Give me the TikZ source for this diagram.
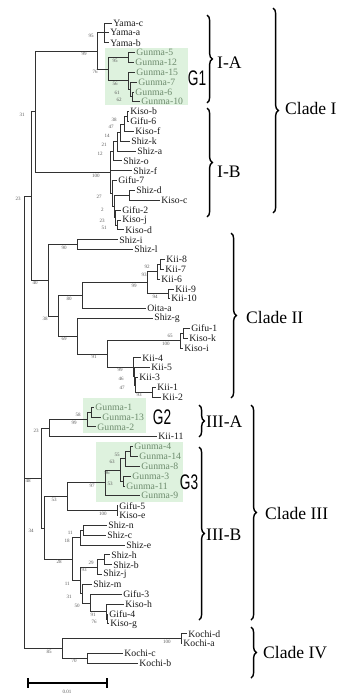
\documentclass[tikz,border=0pt]{standalone}
\usepackage{fontspec}
\setmainfont{Liberation Serif}
\newfontfamily\gfont{Liberation Sans}
\usetikzlibrary{decorations.pathreplacing}

\definecolor{boxgreen}{RGB}{222,242,222}
\definecolor{gtext}{RGB}{110,140,110}
\definecolor{treeline}{RGB}{50,50,50}

\tikzstyle{branch} = [draw=treeline, line width=0.7pt]
\tikzstyle{leaf} = [anchor=west, inner sep=1pt, font=\fontsize{8.3}{9}\selectfont, text=black!90]
\tikzstyle{gleaf} = [leaf, text=gtext]
\tikzstyle{boot} = [anchor=north east, inner sep=0pt, xshift=-0.3cm, yshift=-0.03cm, font=\fontsize{4.3}{5}\selectfont, text=black!65]
\tikzstyle{gbox} = [fill=boxgreen, draw=none]
\tikzstyle{cbrace} = [decorate, decoration={brace, amplitude=4.5pt}, line width=1.2pt]
\tikzstyle{clade} = [anchor=west, inner sep=0pt, font=\fontsize{15}{17}\selectfont]
\tikzstyle{gname} = [inner sep=0pt, font=\gfont\fontsize{18}{20}\selectfont]

\begin{document}
\begin{tikzpicture}[x=0.03cm, y=-0.03cm]
\useasboundingbox (0,0) rectangle (340,696);

\fill[gbox] (105,48) rectangle (188,105);
\fill[gbox] (83,398) rectangle (146,433);
\fill[gbox] (96,442) rectangle (183,502);

\foreach \n/\x/\s/\t [count=\i] in {
    yamac/112/leaf/Yama-c, yamaa/109/leaf/Yama-a, yamab/109/leaf/Yama-b,
    gunma5/135/gleaf/Gunma-5, gunma12/134/gleaf/Gunma-12, gunma15/135/gleaf/Gunma-15,
    gunma7/137/gleaf/Gunma-7, gunma6/134/gleaf/Gunma-6, gunma10/140/gleaf/Gunma-10,
    kisob/129/leaf/Kiso-b, gifu6/129/leaf/Gifu-6, kisof/134/leaf/Kiso-f,
    shizk/130/leaf/Shiz-k, shiza/136/leaf/Shiz-a, shizo/122/leaf/Shiz-o,
    shizf/132/leaf/Shiz-f, gifu7/117/leaf/Gifu-7, shizd/135/leaf/Shiz-d,
    kisoc/160/leaf/Kiso-c, gifu2/121/leaf/Gifu-2, kisoj/121/leaf/Kiso-j,
    kisod/124/leaf/Kiso-d, shizi/118/leaf/Shiz-i, shizl/133/leaf/Shiz-l,
    kii8/165/leaf/Kii-8, kii7/164/leaf/Kii-7, kii6/160/leaf/Kii-6,
    kii9/174/leaf/Kii-9, kii10/170/leaf/Kii-10, oitaa/146/leaf/Oita-a,
    shizg/153/leaf/Shiz-g, gifu1/190/leaf/Gifu-1, kisok/188/leaf/Kiso-k,
    kisoi/183/leaf/Kiso-i, kii4/141/leaf/Kii-4, kii5/150/leaf/Kii-5,
    kii3/138/leaf/Kii-3, kii1/156/leaf/Kii-1, kii2/161/leaf/Kii-2,
    gunma1/94/gleaf/Gunma-1, gunma13/101/gleaf/Gunma-13, gunma2/96/gleaf/Gunma-2,
    kii11/157/leaf/Kii-11, gunma4/133/gleaf/Gunma-4, gunma14/138/gleaf/Gunma-14,
    gunma8/140/gleaf/Gunma-8, gunma3/131/gleaf/Gunma-3, gunma11/125/gleaf/Gunma-11,
    gunma9/140/gleaf/Gunma-9, gifu5/118/leaf/Gifu-5, kisoe/118/leaf/Kiso-e,
    shizn/107/leaf/Shiz-n, shizc/106/leaf/Shiz-c, shize/125/leaf/Shiz-e,
    shizh/110/leaf/Shiz-h, shizb/112/leaf/Shiz-b, shizj/102/leaf/Shiz-j,
    shizm/92/leaf/Shiz-m, gifu3/122/leaf/Gifu-3, kisoh/124/leaf/Kiso-h,
    gifu4/108/leaf/Gifu-4, kisog/109/leaf/Kiso-g, kochid/187/leaf/Kochi-d,
    kochia/182/leaf/Kochi-a, kochic/123/leaf/Kochi-c, kochib/138/leaf/Kochi-b}
    \node[\s] (\n) at (\x, {23+(\i-1)*9.85}) {\t};

\foreach \n/\x/\y in {
    R/24/422, n23/31/196, nI/35/111.8, nIA/97/51.1, nYama/104/32.9,
    nG1/108/69.2, nG95/128/57.5, nG56/128/80.9, nG61/130/89.5, nG62/132/96.9,
    nIB/110/172.5, n12/113/151.4, n21/117/141.9, n14/120/132.6, n47a/124/124,
    n38a/127/116.6, n27/112/193.6, n2/114/206.5, nSd/129/195.4, n23b/115/217.6,
    n51/117/225, nII/48/280.3, nSi/77/244.6, n38/58/316, n80/82/295.7,
    n99K/147/282.8, n93/157/271.7, n92/160/264.4, n94/168/293.9, n69/77/336.2,
    n91/107/354, n100b/180/340.7, n65/183/333.3, n99b/133/367.2, n46/134/376.4,
    n47/135/385, n93b/152/392.4, n48/41/478, nIIIA/49/428.1, n99c/87/419.5,
    n58/91/412.1, nIIIB/44/528, n53/67/496.8, n97/105/482.9, n96/120/470,
    n63/125/458.9, n55/130/451.5, n53g/123/481, n100c/117/510.6, n28/72/559,
    n18/80/537.7, n11a/83/530.3, n11c/80/580.5, n93c/97/567.2, n29/104/559.9,
    n31b/82/593.7, n50/90/603, n91c/106/611.6, n76/107/619, n85/62/648.5,
    n100d/181/638.6, n70/87/658.4}
    \coordinate (\n) at (\x,\y);

\foreach \p/\c in {
    R/n23, R/n48, R/n85, n23/nI, n23/nII, nI/nIA, nI/nIB,
    nIA/nYama, nIA/nG1, nYama/yamac, nYama/yamaa, nYama/yamab,
    nG1/nG95, nG1/nG56, nG95/gunma5, nG95/gunma12, nG56/gunma15, nG56/nG61,
    nG61/gunma7, nG61/nG62, nG62/gunma6, nG62/gunma10,
    nIB/n12, nIB/shizf, nIB/n27, n12/n21, n12/shizo, n21/n14, n21/shiza,
    n14/n47a, n14/shizk, n47a/n38a, n47a/kisof, n38a/kisob, n38a/gifu6,
    n27/gifu7, n27/n2, n2/nSd, n2/n23b, nSd/shizd, nSd/kisoc,
    n23b/gifu2, n23b/n51, n51/kisoj, n51/kisod,
    nII/nSi, nII/n38, nSi/shizi, nSi/shizl, n38/n80, n38/n69,
    n80/n99K, n80/oitaa, n99K/n93, n99K/n94, n93/n92, n93/kii6,
    n92/kii8, n92/kii7, n94/kii9, n94/kii10, n69/shizg, n69/n91,
    n91/n100b, n91/n99b, n100b/n65, n100b/kisoi, n65/gifu1, n65/kisok,
    n99b/kii4, n99b/n46, n46/kii5, n46/n47, n47/kii3, n47/n93b,
    n93b/kii1, n93b/kii2, n48/nIIIA, n48/nIIIB, nIIIA/n99c, nIIIA/kii11,
    n99c/n58, n99c/gunma2, n58/gunma1, n58/gunma13, nIIIB/n53, nIIIB/n28,
    n53/n97, n53/n100c, n97/n96, n97/gunma9, n96/n63, n96/n53g,
    n63/n55, n63/gunma8, n55/gunma4, n55/gunma14, n53g/gunma3, n53g/gunma11,
    n100c/gifu5, n100c/kisoe, n28/n18, n28/n11c, n18/n11a, n18/shize,
    n11a/shizn, n11a/shizc, n11c/n93c, n11c/n31b, n93c/n29, n93c/shizj,
    n29/shizh, n29/shizb, n31b/shizm, n31b/n50, n50/gifu3, n50/n91c,
    n91c/kisoh, n91c/n76, n76/gifu4, n76/kisog, n85/n100d, n85/n70,
    n100d/kochid, n100d/kochia, n70/kochic, n70/kochib}
    \draw[branch] (\p) |- (\c);

\foreach \n/\b in {
    nIA/99, nYama/95, nG1/76, nG95/95, nG56/56, nG61/61, nG62/62, nI/31,
    n23/23, nIB/100, n38a/38, n47a/47, n14/14, n21/21, n12/12, n27/27,
    n2/2, n23b/23, n51/51, nSi/90, nII/40, n99K/99, n93/93, n92/92,
    n94/94, n80/80, n38/38, n69/69, n65/65, n100b/100, n91/91, n99b/99,
    n46/46, n47/47, n93b/93, n58/58, n99c/99, nIIIA/23, n55/55, n63/63,
    n96/96, n97/97, n53g/53, n53/53, n100c/100, n48/48, nIIIB/34,
    n11a/11, n18/18, n28/28, n29/29, n93c/93, n11c/11, n31b/31, n50/50,
    n91c/91, n76/76, n85/85, n100d/100, n70/70}
    \node[boot] at (\n) {\b};

\node[gname] (g1) at (197,78) {\scalebox{0.65}[1]{G1}};
\node[gname] (g2) at (162,417) {\scalebox{0.65}[1]{G2}};
\node[gname] (g3) at (189,482) {\scalebox{0.65}[1]{G3}};

\draw[cbrace] (207,15) -- (207,103);
\draw[cbrace] (207,108) -- (207,217);
\draw[cbrace] (273,8) -- (273,213);
\draw[cbrace] (231,233) -- (231,398);
\draw[cbrace] (199,405) -- (199,437);
\draw[cbrace] (199,447) -- (199,620);
\draw[cbrace] (251,405) -- (251,620);
\draw[cbrace] (251,627) -- (251,678);

\node[clade] (ia) at (217,63) {I-A};
\node[clade] (ib) at (217,172) {I-B};
\node[clade] (cI) at (285,108) {Clade I};
\node[clade] (cII) at (246,317) {Clade II};
\node[clade] (iiia) at (206,422) {III-A};
\node[clade] (iiib) at (206,535) {III-B};
\node[clade] (cIII) at (265,513) {Clade III};
\node[clade] (cIV) at (263,653) {Clade IV};

\coordinate (sbl) at (27,683);
\coordinate (sbr) at (108,683);
\draw[line width=1.3pt, |-|] (sbl) -- (sbr);
\node[font=\fontsize{4.3}{5}\selectfont, text=black!65] (sblabel) at (67,692) {0.01};
\end{tikzpicture}
\end{document}
